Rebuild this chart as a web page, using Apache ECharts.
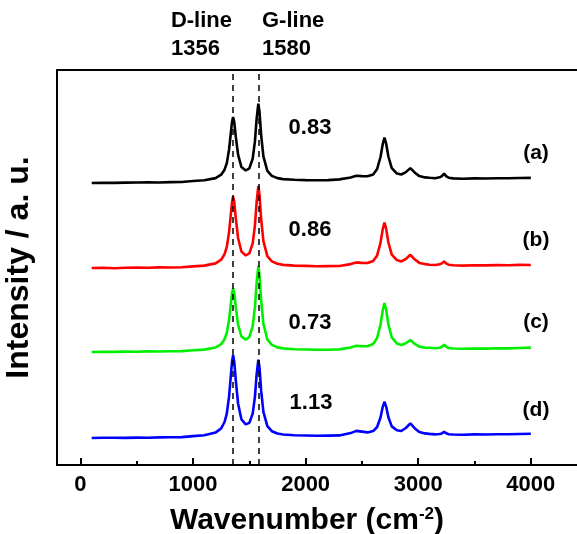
<!DOCTYPE html>
<html>
<head>
<meta charset="utf-8">
<script src="https://cdn.jsdelivr.net/npm/echarts@6/dist/echarts.min.js"></script>
<style>
html,body{margin:0;padding:0;background:#fff;}
#c{width:577px;height:534px;}
</style>
</head>
<body>
<div id="c"></div>
<script>
// Wavenumber grid (cm^-1)
var wavenumbers = [100,200,300,400,500,600,700,800,900,1000,
  1100,1200,1250,1280,1300,1320,1335,1346,1356,1366,
  1380,1400,1430,1468,1500,1530,1550,1565,1580,1590,
  1605,1625,1660,1700,1750,1800,1900,2000,2100,2200,
  2300,2400,2450,2500,2550,2600,2635,2665,2685,2700,
  2715,2735,2765,2810,2850,2890,2930,2970,3010,3060,
  3100,3150,3190,3210,3230,3250,3270,3310,3400,3500,
  3600,3700,3800,3900,4000];

// Spectra (a.u., relative to each trace's own baseline)
var specA = [0,0.3,0.1,0.4,0.5,0.6,0.5,0.9,1.0,2.0,
  2.7,4.9,8.3,13.3,19.9,33.5,49.0,60.8,66.0,61.0,
  46.1,28.4,15.9,12.5,14.6,24.4,41.8,64.4,79.4,71.7,
  47.9,26.6,12.1,7.1,4.9,3.9,3.3,2.9,2.7,2.9,
  3.6,5.5,7.3,6.9,6.8,8.6,14.0,26.0,39.0,45.3,
  39.5,26.5,14.8,9.5,8.5,10.9,14.9,10.3,6.9,5.6,
  5.2,4.8,5.7,6.9,9.4,6.7,5.3,4.6,4.2,4.6,
  4.5,4.8,4.7,5.0,5.1];
var specB = [0,0.2,-0.2,0.3,0.4,0.2,0.6,0.5,0.8,1.6,
  2.4,4.6,8.3,13.8,21.1,35.7,52.8,65.7,71.4,66.0,
  49.6,30.0,16.4,12.5,14.7,24.7,42.7,66.2,81.8,73.7,
  49.0,26.9,11.8,6.6,4.2,3.1,2.4,2.1,1.8,1.9,
  2.0,3.9,5.6,5.1,5.0,7.0,12.6,25.2,38.9,45.5,
  39.3,25.5,13.3,7.9,6.6,9.0,13.2,8.5,5.1,3.9,
  3.3,3.0,3.7,4.6,6.6,4.4,3.3,2.8,2.4,2.7,
  2.6,2.9,2.8,3.1,3.0];
var specC = [0,0.2,0.1,0.4,0.3,0.6,0.5,0.7,0.9,1.7,
  2.4,4.5,7.8,12.7,19.2,32.2,47.3,58.6,63.8,59.0,
  44.6,27.3,15.5,12.4,15.0,25.8,44.8,69.5,85.9,77.5,
  51.7,28.2,12.5,7.1,4.6,3.6,2.8,2.5,2.2,2.3,
  2.6,4.5,6.2,5.8,5.8,8.0,14.0,27.2,42.0,49.0,
  42.4,27.6,14.6,8.6,7.0,8.7,11.9,8.1,5.4,4.4,
  4.3,3.8,4.3,5.3,7.2,5.2,4.0,3.5,3.2,3.5,
  3.4,3.8,3.6,4.0,4.4];
var specD = [0,0.3,0.2,0.1,0.4,0.3,0.6,0.7,0.9,1.9,
  2.7,5.4,9.6,16.0,24.4,41.4,61.1,76.0,82.7,76.3,
  57.4,34.5,18.6,13.6,15.1,24.4,41.4,63.6,78.3,70.8,
  47.3,26.2,11.8,6.8,4.5,3.5,2.8,2.5,2.2,2.4,
  2.6,4.9,7.1,6.4,5.6,6.9,11.0,20.5,31.2,36.2,
  31.4,20.8,11.6,7.7,7.0,10.0,14.6,9.6,5.9,4.6,
  4.1,3.6,4.0,4.6,6.2,4.7,3.8,3.5,3.3,3.6,
  3.5,3.8,3.7,4.0,4.2];

var seriesNames = ['(a)','(b)','(c)','(d)'];
var seriesOffsets = [282,197,113,27];
var seriesColors = ['#000000','#ff0000','#00f000','#0000ff'];
var ratioLabels = ['0.83','0.86','0.73','1.13'];
var dLine = 1356, gLine = 1580;
var majorTicks = [0,1000,2000,3000,4000];
var minorTicks = [500,1500,2500,3500];

var spectra = [specA,specB,specC,specD];
var FONT = 'Arial, "Liberation Sans", sans-serif';
var XMIN = -208, XMAX = 4410;

var chart = echarts.init(document.getElementById('c'), null, {renderer:'canvas'});

var series = spectra.map(function(s, k){
  return {
    name: seriesNames[k],
    type: 'line',
    showSymbol: false,
    symbol: 'none',
    xAxisIndex: 0,
    lineStyle: {color: seriesColors[k], width: 2.6},
    itemStyle: {color: seriesColors[k]},
    data: wavenumbers.map(function(w, i){ return [w, s[i] + seriesOffsets[k]]; }),
    z: 2
  };
});
series.push({
  type: 'line',
  data: [],
  xAxisIndex: 0,
  z: 5,
  markLine: {
    silent: true,
    symbol: ['none','none'],
    label: {show:false},
    lineStyle: {color:'#000', type:[6,5], width:1.5},
    data: [{xAxis: dLine}, {xAxis: gLine}]
  }
});

var txt = function(x, y, text, size, align){
  return {type:'text', x:x, y:y, z:10, style:{text:text, fill:'#000', font:'bold '+size+'px '+FONT, textAlign:align||'center', textVerticalAlign:'middle'}};
};

var graphics = [
  txt(232, 21, 'D-line', 22, 'right'),
  txt(171, 49, String(dLine), 22, 'left'),
  txt(262, 21, 'G-line', 22, 'left'),
  txt(262, 49, String(gLine), 22, 'left'),
  txt(310, 128, ratioLabels[0], 22),
  txt(310, 230, ratioLabels[1], 22),
  txt(310, 323, ratioLabels[2], 22),
  txt(311, 403, ratioLabels[3], 22),
  txt(536, 153, seriesNames[0], 21),
  txt(536, 240, seriesNames[1], 21),
  txt(536, 322, seriesNames[2], 21),
  txt(536, 410, seriesNames[3], 21),
  {type:'text', x:307, y:521, z:10, style:{
    text:'{a|Wavenumber (cm}{s|-2}{a|)}', textAlign:'center', textVerticalAlign:'middle',
    rich:{
      a:{fontFamily:FONT, fontWeight:'bold', fontSize:30, fill:'#000'},
      s:{fontFamily:FONT, fontWeight:'bold', fontSize:17, fill:'#000', padding:[0,0,14,0]}
    }}}
];

var tickLabelStyle = {color:'#000', fontFamily:FONT, fontWeight:'bold', fontSize:22};

chart.setOption({
  backgroundColor: '#ffffff',
  animation: false,
  grid: {left:57, top:70, right:0, bottom:69, show:false, containLabel:false, outerBoundsMode:'none'},
  xAxis: [{
    type:'value', min:XMIN, max:XMAX, position:'bottom',
    axisLine:{show:true, onZero:false, lineStyle:{color:'#000', width:2}},
    axisTick:{show:true, inside:true, length:7, lineStyle:{color:'#000', width:2}, customValues:majorTicks},
    axisLabel:Object.assign({show:true, margin:9, customValues:majorTicks, formatter:function(v){return String(v);}}, tickLabelStyle),
    splitLine:{show:false}
  },{
    type:'value', min:XMIN, max:XMAX, position:'bottom',
    axisLine:{show:false},
    axisTick:{show:true, inside:true, length:4, lineStyle:{color:'#000', width:2}, customValues:minorTicks},
    axisLabel:{show:false},
    splitLine:{show:false}
  },{
    type:'value', min:XMIN, max:XMAX, position:'top',
    axisLine:{show:true, onZero:false, lineStyle:{color:'#000', width:2}},
    axisTick:{show:false}, axisLabel:{show:false}, splitLine:{show:false}
  }],
  yAxis: {
    type:'value', min:0, max:395,
    name:'Intensity / a. u.', nameLocation:'middle', nameRotate:90, nameGap:22,
    nameTextStyle:{fontFamily:FONT, fontWeight:'bold', fontSize:32, color:'#000'},
    axisLine:{show:true, onZero:false, lineStyle:{color:'#000', width:2}},
    axisTick:{show:false}, axisLabel:{show:false}, splitLine:{show:false}
  },
  series: series,
  graphic: graphics
});
</script>
</body>
</html>
